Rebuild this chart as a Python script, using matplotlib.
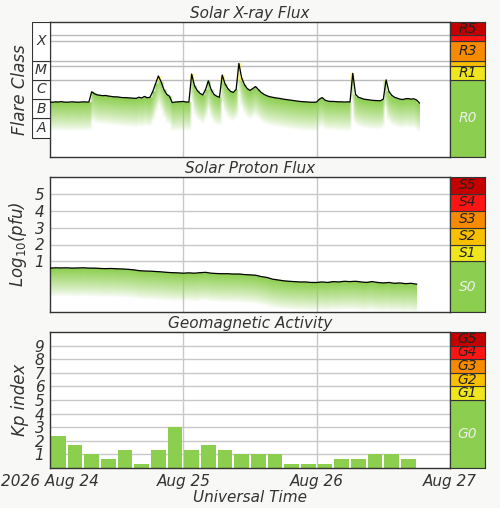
import numpy as np
import matplotlib
matplotlib.use("Agg")
import matplotlib.pyplot as plt
from matplotlib.patches import Rectangle
from matplotlib.colors import to_rgb

# ---------------- data ----------------
xray_hours = np.arange(0, 67, 0.5)
xray_log = [-6.15,-6.16,-6.14,-6.15,-6.13,-6.15,-6.16,-6.15,-6.14,-6.15,-6.16,-6.15,-6.14,-6.15,
            -6.15,-5.62,-5.72,-5.78,-5.80,-5.82,-5.81,-5.84,-5.86,-5.88,-5.88,-5.90,-5.92,-5.92,
            -5.93,-5.94,-5.95,-5.96,-5.90,-5.94,-5.86,-5.93,-5.90,-5.60,-5.20,-4.80,-5.10,-5.50,
            -5.75,-5.85,-6.18,-6.15,-6.14,-6.13,-6.12,-6.15,-6.15,-4.70,-5.30,-5.55,-5.70,-5.78,
            -5.50,-5.05,-5.50,-5.75,-5.85,-5.90,-4.75,-5.20,-5.45,-5.60,-5.65,-5.50,-4.15,-4.90,
            -5.25,-5.45,-5.55,-5.45,-5.35,-5.50,-5.65,-5.75,-5.82,-5.87,-5.90,-5.93,-5.95,-5.97,
            -6.00,-6.02,-6.04,-6.06,-6.08,-6.10,-6.12,-6.13,-6.14,-6.15,-6.16,-6.16,-6.15,-6.00,
            -5.92,-6.05,-6.10,-6.12,-6.12,-6.13,-6.14,-6.14,-6.15,-6.14,-6.15,-4.66,-5.75,-5.90,
            -5.95,-6.00,-6.02,-6.04,-6.06,-6.07,-6.08,-6.08,-6.00,-5.00,-5.60,-5.80,-5.90,-5.95,
            -6.00,-6.02,-5.98,-5.97,-6.00,-5.98,-6.05,-6.20]
proton_hours = np.arange(0, 67, 1.0)
proton_log = [0.60,0.62,0.61,0.62,0.60,0.61,0.62,0.60,0.60,0.58,0.57,0.58,0.56,0.55,0.53,0.50,
              0.45,0.43,0.42,0.40,0.38,0.35,0.33,0.32,0.30,0.32,0.30,0.33,0.35,0.30,0.28,0.27,
              0.27,0.25,0.25,0.22,0.20,0.18,0.10,0.05,-0.05,-0.10,-0.15,-0.18,-0.20,-0.22,-0.22,
              -0.25,-0.25,-0.22,-0.25,-0.20,-0.22,-0.18,-0.20,-0.18,-0.22,-0.25,-0.20,-0.25,-0.28,
              -0.25,-0.30,-0.28,-0.32,-0.30,-0.35]
kp_start_hours = np.arange(0, 66, 3)
kp_values = [2.33,1.67,1.0,0.67,1.33,0.33,1.33,3.0,1.33,1.67,1.33,1.0,1.0,1.0,0.33,0.33,0.33,0.67,0.67,1.0,1.0,0.67]
xtick_hours = [0, 24, 48, 72]
xtick_labels = ["2026 Aug 24", "Aug 25", "Aug 26", "Aug 27"]
flare_classes = ["A", "B", "C", "M", "X"]
flare_bounds = [(-8, -7), (-7, -6), (-6, -5), (-5, -4), (-4, -2)]
r_labels = ["R0", "R1", "", "R3", "", "R5"]
r_bounds = [(-9, -5), (-5, -4.3), (-4.3, -4), (-4, -3), (-3, -2.7), (-2.7, -2)]
s_labels = ["S0", "S1", "S2", "S3", "S4", "S5"]
s_bounds = [(-2, 1), (1, 2), (2, 3), (3, 4), (4, 5), (5, 6)]
g_labels = ["G0", "G1", "G2", "G3", "G4", "G5"]
g_bounds = [(0, 5), (5, 6), (6, 7), (7, 8), (8, 9), (9, 10)]
scale_colors = ["#8cce4e", "#f0e61e", "#f8c000", "#f88a00", "#ff1414", "#c40000"]

GREEN = "#8cce4e"
YELLOW = "#f0e61e"
TXT = "#333333"
BG = "#f8f8f6"

W, H = 500, 508
fig = plt.figure(figsize=(W / 100, H / 100), dpi=100, facecolor=BG)

def ax_px(x0, y0, x1, y1, **kw):
    return fig.add_axes([x0 / W, 1 - y1 / H, (x1 - x0) / W, (y1 - y0) / H], **kw)

font = dict(style="italic", color=TXT)

def style_main(ax, ylim, title):
    ax.set_xlim(0, 72)
    ax.set_ylim(*ylim)
    ax.set_facecolor("white")
    for s in ax.spines.values():
        s.set_color("#333333"); s.set_linewidth(1)
    for h in (24, 48):
        ax.axvline(h, color="#c8c8c8", lw=1, zorder=0)
    ax.set_xticks([])
    ax.set_title(title, fontsize=11, pad=3, **font)

def gradient_fill(ax, x, y, depth, ylim, yellow_above=None, ny=300):
    x = np.asarray(x, float); y = np.asarray(y, float)
    ygrid = np.linspace(ylim[0], ylim[1], ny)
    img = np.zeros((ny, len(x), 4))
    g = np.array(to_rgb(GREEN)); yl = np.array(to_rgb(YELLOW))
    for j, v in enumerate(y):
        d = v - ygrid
        a = np.clip(1 - d / depth, 0, 1) * (d >= 0)
        a = a ** 0.8
        col = np.tile(g, (ny, 1))
        if yellow_above is not None:
            col[ygrid > yellow_above] = yl
        img[:, j, :3] = col
        img[:, j, 3] = a
    dx = x[1] - x[0]
    ax.imshow(img, origin="lower", aspect="auto", interpolation="bilinear",
              extent=(x[0], x[-1] + dx * 0.0, ylim[0], ylim[1]), zorder=1)
    ax.set_xlim(0, 72); ax.set_ylim(*ylim)

def scale_bar(x0, y0, x1, y1, ylim, bounds, labels):
    ax = ax_px(x0, y0, x1, y1)
    ax.set_xlim(0, 1); ax.set_ylim(*ylim)
    ax.set_xticks([]); ax.set_yticks([])
    for s in ax.spines.values():
        s.set_color("#333333")
    for (lo, hi), c, lab in zip(bounds, scale_colors, labels):
        ax.add_patch(Rectangle((0, lo), 1, hi - lo, facecolor=c, edgecolor="#333333", lw=0.8))
        if lab:
            tc = "#eeeeee" if lab.endswith("0") else "#222222"
            ax.text(0.5, (lo + hi) / 2, lab, ha="center", va="center", fontsize=10,
                    style="italic", color=tc)
    return ax

# ---------------- X-ray ----------------
ylim1 = (-9, -2)
ax1 = ax_px(50, 22, 450, 157)
style_main(ax1, ylim1, "Solar X-ray Flux")
for lv in (-5, -4.3, -4, -3, -2.7):
    ax1.axhline(lv, color="#bbbbbb", lw=1, zorder=0)
gradient_fill(ax1, xray_hours, xray_log, 1.5, ylim1, yellow_above=-5.05)
ax1.plot(xray_hours, xray_log, color="black", lw=0.9, zorder=3)
ax1.set_yticks([])
axc = ax_px(32, 22, 50, 157)
axc.set_xlim(0, 1); axc.set_ylim(*ylim1); axc.axis("off")
for lab, (lo, hi) in zip(flare_classes, flare_bounds):
    axc.add_patch(Rectangle((0, lo), 1, hi - lo, facecolor="white", edgecolor="#333333", lw=0.8))
    axc.text(0.5, (lo + hi) / 2, lab, ha="center", va="center", fontsize=10, **font)
fig.text(20 / W, 1 - 90 / H, "Flare Class", rotation=90, ha="center", va="center", fontsize=12, **font)
scale_bar(450, 22, 485, 157, ylim1, r_bounds, r_labels)

# ---------------- Proton ----------------
ylim2 = (-2, 6)
ax2 = ax_px(50, 177, 450, 312)
style_main(ax2, ylim2, "Solar Proton Flux")
for lv in (1, 2, 3, 4, 5):
    ax2.axhline(lv, color="#c8c8c8", lw=1, zorder=0)
gradient_fill(ax2, proton_hours, proton_log, 1.7, ylim2)
ax2.plot(proton_hours, proton_log, color="black", lw=0.9, zorder=3)
ax2.set_yticks([1, 2, 3, 4, 5])
ax2.tick_params(axis="y", length=0, labelsize=11, colors=TXT, pad=4)
for t in ax2.get_yticklabels():
    t.set_style("italic")
ax2.set_ylabel("Log$_{10}$(pfu)", fontsize=12, labelpad=4, **font)
scale_bar(450, 177, 485, 312, ylim2, s_bounds, s_labels)

# ---------------- Kp ----------------
ylim3 = (0, 10)
ax3 = ax_px(50, 332, 450, 468)
style_main(ax3, ylim3, "Geomagnetic Activity")
for lv in range(1, 10):
    ax3.axhline(lv, color="#c8c8c8", lw=1, zorder=0)
ax3.bar(kp_start_hours + 0.2, kp_values, width=2.6, align="edge", color=GREEN, zorder=2)
ax3.set_yticks(range(1, 10))
ax3.tick_params(axis="y", length=0, labelsize=11, colors=TXT, pad=4)
for t in ax3.get_yticklabels():
    t.set_style("italic")
ax3.set_ylabel("Kp index", fontsize=12, labelpad=4, **font)
ax3.set_xticks(xtick_hours)
ax3.set_xticklabels(xtick_labels)
ax3.tick_params(axis="x", length=0, labelsize=11, colors=TXT, pad=4)
for t in ax3.get_xticklabels():
    t.set_style("italic")
ax3.set_xlabel("Universal Time", fontsize=11, labelpad=1, **font)
scale_bar(450, 332, 485, 468, ylim3, g_bounds, g_labels)

fig.savefig("out.png", dpi=100, facecolor=BG)
